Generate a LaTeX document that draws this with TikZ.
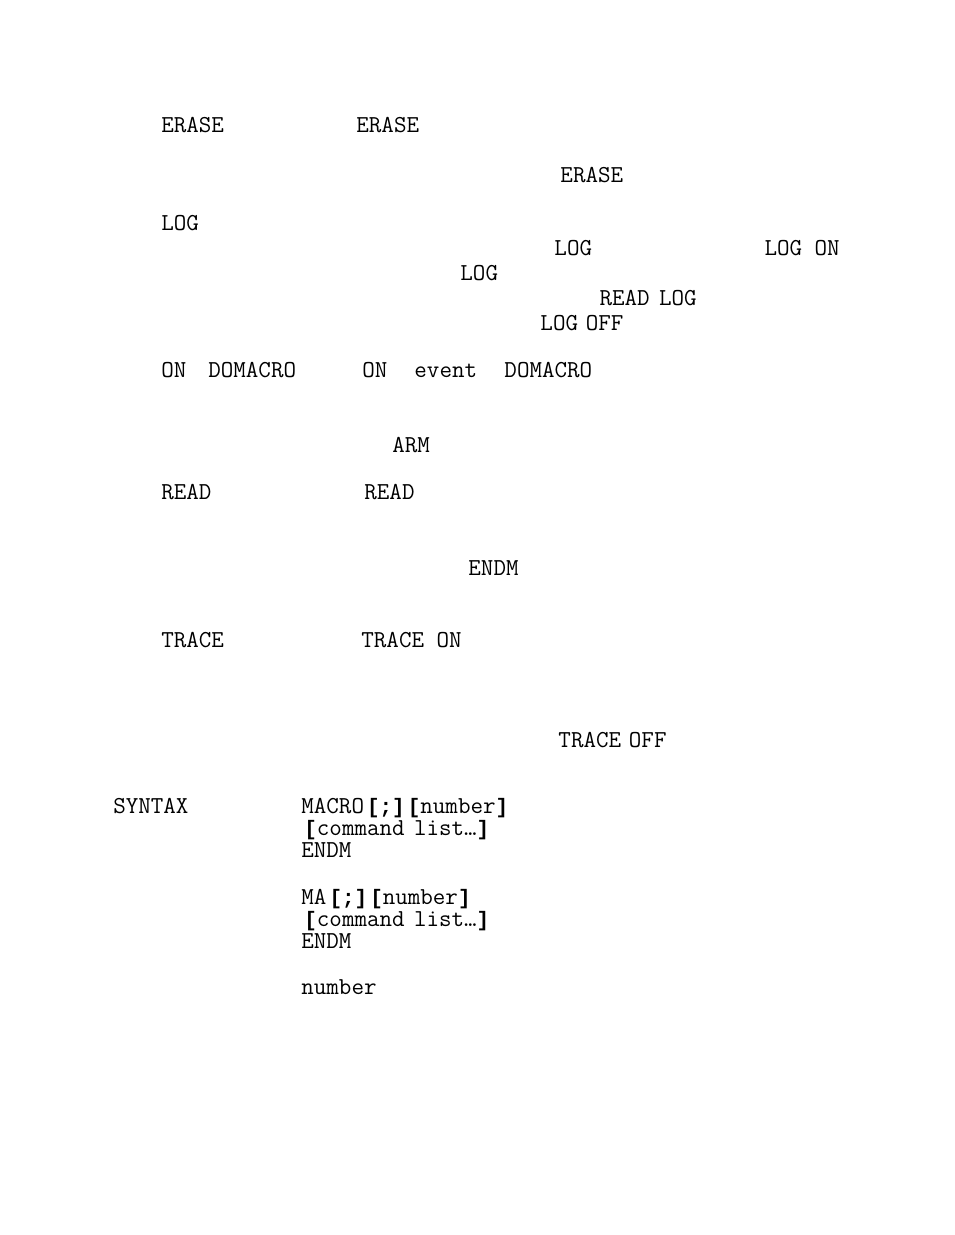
\documentclass[tikz,border=0pt]{standalone}
\usepackage{fontspec}
\newfontfamily\brkfont{Liberation Mono}
\usepackage{tikz}
\usetikzlibrary{positioning}
\tikzset{txt/.style={anchor=base west, inner sep=0pt, font=\ttfamily\fontsize{15.6}{18}\selectfont}}
\newcommand{\bk}[1]{{\brkfont\fontsize{13.4}{16}\selectfont\bfseries #1}}

\begin{document}
\begin{tikzpicture}[x=0.6415pt, y=-0.6413pt]
			\useasboundingbox (0,0) rectangle (954,1235);
			\node[txt] (erase1) at (161,133) {ERASE};
			\node[txt] (erase2) at (356,133) {ERASE};
			\node[txt] (erase3) at (560,183) {ERASE};
			\node[txt] (log1) at (161,230) {LOG};
			\node[txt] (log2) at (554,255) {LOG};
			\node[txt] (logon) at (764,255) {LOG ON};
			\node[txt] (log3) at (460,280) {LOG};
			\node[txt] (readlog) at (599,305) {READ\hspace{-2pt} LOG};
			\node[txt] (logoff) at (540,330) {LOG\hspace{-3pt} OFF};
			\node[txt] (on1) at (161,377) {ON};
			\node[txt] (domacro1) at (208,377) {DOMACRO};
			\node[txt] (on2) at (362,377) {ON};
			\node[txt] (event) at (414,377) {event};
			\node[txt] (domacro2) at (504,377) {DOMACRO};
			\node[txt] (arm) at (392,452) {ARM};
			\node[txt] (read1) at (161,499) {READ};
			\node[txt] (read2) at (364,499) {READ};
			\node[txt] (endm1) at (468,575) {ENDM};
			\node[txt] (trace1) at (161,647) {TRACE};
			\node[txt] (trace2) at (361,647) {TRACE ON};
			\node[txt] (traceoff) at (558,747) {TRACE\hspace{-3pt} OFF};
			\node[txt] (syntax) at (113,813) {SYNTAX};
			\node[txt] (macro) at (301,813) {MACRO\hspace{2pt}\bk{[;]}\hspace{2pt}\bk{[}number\bk{]}};
			\node[txt] (cmd1) at (304,835) {\bk{[}command\hspace{-2pt} list…\bk{]}};
			\node[txt] (endm2) at (301,857) {ENDM};
			\node[txt] (ma) at (301,904) {MA\hspace{2pt}\bk{[;]}\hspace{2pt}\bk{[}number\bk{]}};
			\node[txt] (cmd2) at (304,926) {\bk{[}command\hspace{-2pt} list…\bk{]}};
			\node[txt] (endm3) at (301,948) {ENDM};
			\node[txt] (number) at (301,994) {number};
			\end{tikzpicture}
\end{document}
